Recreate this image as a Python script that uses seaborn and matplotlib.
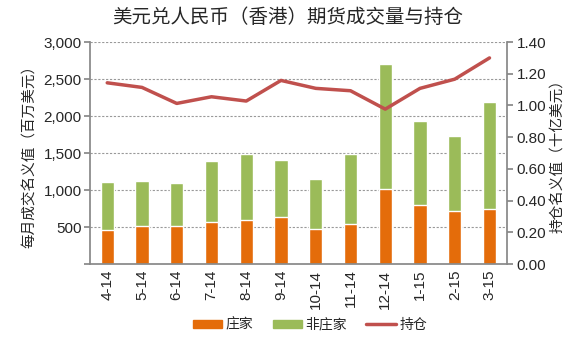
import matplotlib
matplotlib.use("Agg")
import matplotlib.pyplot as plt
import seaborn as sns
import pandas as pd
import numpy as np
from matplotlib.patches import Patch
from matplotlib.lines import Line2D

months = ["4-14", "5-14", "6-14", "7-14", "8-14", "9-14", "10-14", "11-14", "12-14", "1-15", "2-15", "3-15"]
dealer = [460, 514, 514, 568, 595, 635, 473, 545, 1013, 802, 716, 739]
total = [1104, 1122, 1099, 1392, 1486, 1405, 1149, 1486, 2703, 1928, 1730, 2185]
open_interest = [1.143, 1.114, 1.013, 1.055, 1.028, 1.158, 1.108, 1.093, 0.977, 1.108, 1.166, 1.300]

left_ticks = [0, 500, 1000, 1500, 2000, 2500, 3000]
right_ticks = [0.0, 0.2, 0.4, 0.6, 0.8, 1.0, 1.2, 1.4]

df = pd.DataFrame({"month": months, "dealer": dealer, "total": total, "oi": open_interest})

sns.set_theme(style="white")
plt.rcParams["font.family"] = ["Liberation Sans", "Noto Sans CJK SC", "DejaVu Sans"]

c_orange = "#E46C0A"
c_green = "#9BBB59"
c_red = "#C0504D"
c_axis = "#888888"

fig = plt.figure(figsize=(5.76, 3.42), dpi=100)
ax = fig.add_axes([0.156, 0.228, 0.724, 0.649])

sns.barplot(data=df, x="month", y="total", color=c_green, width=0.38, saturation=1, ax=ax, order=months)
sns.barplot(data=df, x="month", y="dealer", color=c_orange, width=0.38, saturation=1, ax=ax, order=months)

ax.set_ylim(0, 3000)
ax.set_xlim(-0.5, len(months) - 0.5)
ax.set_yticks(left_ticks)
ax.set_yticklabels(["" if v == 0 else f"{v:,}" for v in left_ticks], fontsize=11)
ax.set_xticks(range(len(months)))
ax.set_xticklabels(months, rotation=90, fontsize=11)
ax.tick_params(axis="x", length=0, pad=4)
ax.set_xticks([-0.5, 4.5, 9.5], minor=True)
ax.tick_params(axis="x", which="minor", length=4, color=c_axis, direction="out")
ax.tick_params(axis="y", length=4, color=c_axis, direction="out", pad=2)
for v in left_ticks[1:]:
    ax.axhline(v, color="#999999", lw=0.8, ls=(0, (2, 1.5)), zorder=0)
ax.set_axisbelow(True)
for s in ["top", "right"]:
    ax.spines[s].set_visible(False)
ax.spines["left"].set_color(c_axis)
ax.spines["bottom"].set_color(c_axis)
ax.set_xlabel("")
ax.set_ylabel("每月成交名义值（百万美元）", fontsize=10.5, family=["Noto Sans CJK SC"], labelpad=5)

ax2 = ax.twinx()
sns.lineplot(x=np.arange(len(months)), y=open_interest, color=c_red, lw=2.5, sort=False, ax=ax2)
ax2.set_ylim(0, 1.4)
ax2.set_yticks(right_ticks)
ax2.set_yticklabels([f"{v:.2f}" for v in right_ticks], fontsize=11)
ax2.tick_params(axis="y", length=4, color=c_axis, direction="out", pad=3)
for s in ["top", "left", "bottom"]:
    ax2.spines[s].set_visible(False)
ax2.spines["right"].set_color(c_axis)
ax2.set_ylabel("持仓名义值（十亿美元）", fontsize=10.5, family=["Noto Sans CJK SC"], rotation=90, labelpad=3)
ax2.set_xlim(-0.5, len(months) - 0.5)

fig.suptitle("美元兑人民币（香港）期货成交量与持仓", x=0.5, y=0.98, fontsize=14,
             family=["Noto Sans CJK SC"])

handles = [Patch(color=c_orange, label="庄家"), Patch(color=c_green, label="非庄家"),
           Line2D([], [], color=c_red, lw=2.5, label="持仓")]
fig.legend(handles=handles, loc="center", bbox_to_anchor=(0.538, 0.05), ncol=3, frameon=False,
           prop={"family": "Noto Sans CJK SC", "size": 10}, handlelength=2.1, handleheight=0.55,
           columnspacing=1.4, handletextpad=0.25)

fig.savefig("out.png", dpi=100)
